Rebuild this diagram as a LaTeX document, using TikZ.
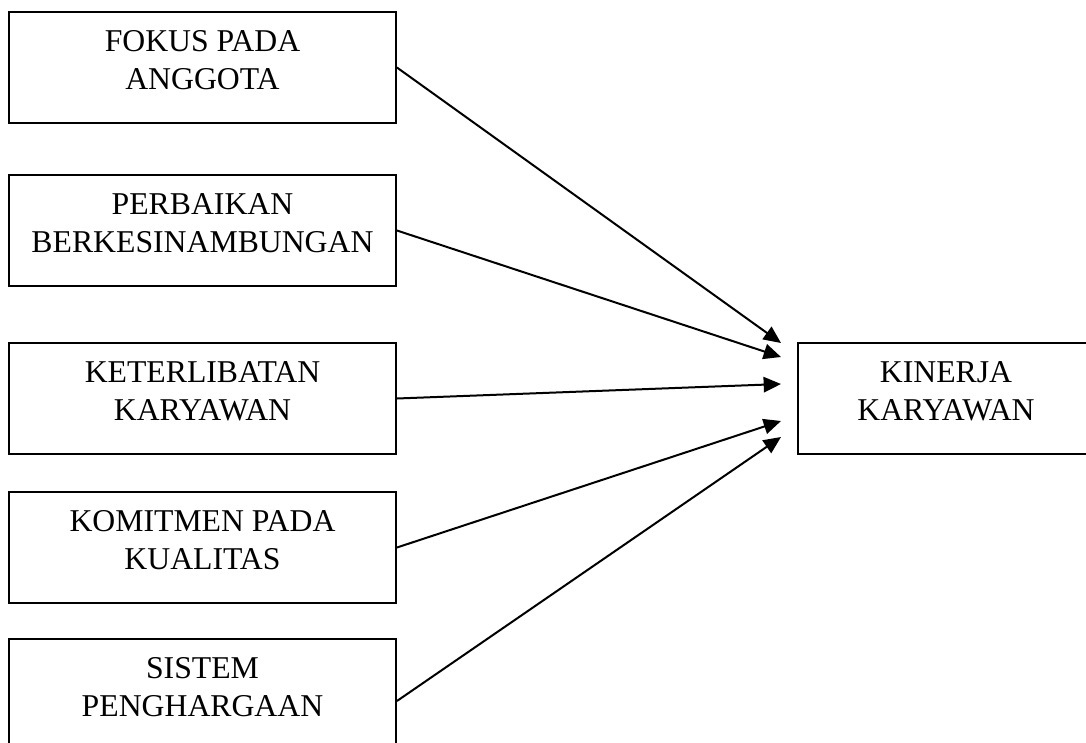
\documentclass[tikz,border=0pt]{standalone}
\usepackage{fontspec}
\setmainfont{Liberation Serif}
\usetikzlibrary{arrows.meta}
\begin{document}
\begin{tikzpicture}[x=0.75pt,y=-0.75pt,
  box/.style={draw=black, line width=1.4pt, rectangle, inner sep=0pt, minimum width=290.25pt, minimum height=83.25pt},
  lbl/.style={align=center, inner sep=0pt, font=\fontsize{23.8}{28.5}\selectfont},
  conn/.style={line width=1.5pt, -{Triangle[length=13pt,width=11.5pt]}}]
\clip (0,0) rectangle (1086,743);
\fill[white] (0,0) rectangle (1086,743);
% left boxes
\node[box] (b1) at (202.5,67.5) {};
\node[box] (b2) at (202.5,230.5) {};
\node[box] (b3) at (202.5,398.5) {};
\node[box] (b4) at (202.5,547.5) {};
\node[box, minimum height=93pt] (b5) at (202.5,701) {};
% right box
\node[box, minimum width=222pt] (r) at (946,398.5) {};
% labels
\node[lbl, anchor=north] (l1) at ([yshift=-14.25pt]b1.north) {FOKUS PADA\\ANGGOTA};
\node[lbl, anchor=north] (l2) at ([yshift=-14.25pt]b2.north) {PERBAIKAN\\BERKESINAMBUNGAN};
\node[lbl, anchor=north] (l3) at ([yshift=-14.25pt]b3.north) {KETERLIBATAN\\KARYAWAN};
\node[lbl, anchor=north] (l4) at ([yshift=-14.25pt]b4.north) {KOMITMEN PADA\\KUALITAS};
\node[lbl, anchor=north] (l5) at ([yshift=-14.25pt]b5.north) {SISTEM\\PENGHARGAAN};
\node[lbl, anchor=north] (lr) at ([yshift=-14.25pt]r.north) {KINERJA\\KARYAWAN};
% arrow targets
\coordinate (t1) at (781,343);
\coordinate (t2) at (781,357);
\coordinate (t3) at (781,384);
\coordinate (t4) at (781,421);
\coordinate (t5) at (781,437);
\draw[conn] (b1.east) -- (t1);
\draw[conn] (b2.east) -- (t2);
\draw[conn] (b3.east) -- (t3);
\draw[conn] (b4.east) -- (t4);
\draw[conn] (b5.east) -- (t5);
\end{tikzpicture}
\end{document}
